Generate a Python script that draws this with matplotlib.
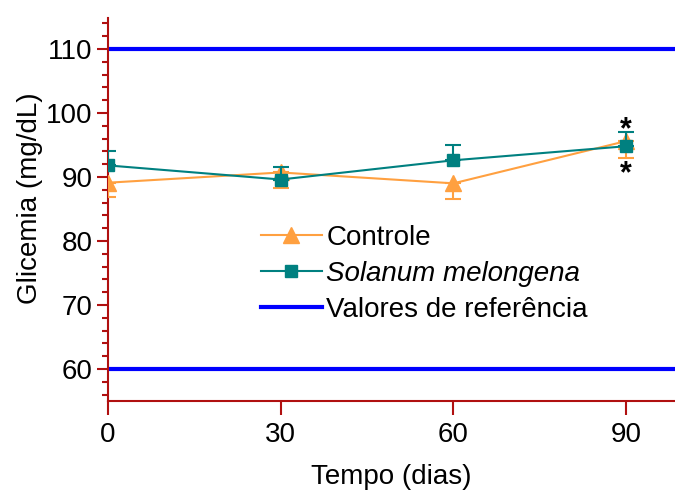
import matplotlib
matplotlib.use('Agg')
import matplotlib.pyplot as plt
from matplotlib.ticker import MultipleLocator
from matplotlib.lines import Line2D

plt.rcParams['font.family'] = ['Liberation Sans', 'DejaVu Sans']

# dados
dias = [0, 30, 60, 90]
controle = [89.1, 90.7, 89.0, 95.6]
controle_err = [2.2, 2.4, 2.4, 2.6]
solanum = [91.8, 89.6, 92.6, 94.8]
solanum_err = [2.3, 1.9, 2.4, 2.3]
referencia = [60, 110]

cor_eixo = '#b01010'
laranja = '#ffa040'
verde = '#008080'
azul = '#0000ff'

fig = plt.figure(figsize=(6.75, 4.92), dpi=100)
ax = fig.add_axes([0.16, 0.185, 0.84, 0.778])

# linhas de referencia
for r in referencia:
    ax.axhline(r, color=azul, lw=3, zorder=1)

# controle: barras de erro para baixo
zeros = [0] * len(dias)
ax.errorbar(dias, controle, yerr=[controle_err, zeros], color=laranja,
            lw=1.5, elinewidth=1.5, capsize=6, capthick=1.5,
            marker='^', ms=12, mec=laranja, zorder=3)
# solanum: barras de erro para cima
ax.errorbar(dias, solanum, yerr=[zeros, solanum_err], color=verde,
            lw=1.5, elinewidth=1.5, capsize=6, capthick=1.5,
            marker='s', ms=9, mec=verde, zorder=4)

# asteriscos de significancia
ax.text(90, solanum[3] + solanum_err[3] - 2.2, '*', ha='center', va='bottom',
        fontsize=22, fontweight='bold')
ax.text(90, controle[3] - controle_err[3] - 5.0, '*', ha='center', va='bottom',
        fontsize=22, fontweight='bold')

ax.set_xlim(0, 98.5)
ax.set_ylim(55, 114.8)
ax.set_xticks(dias)
ax.yaxis.set_major_locator(MultipleLocator(10))
ax.yaxis.set_minor_locator(MultipleLocator(2))
ax.set_yticks(range(60, 111, 10))

for s in ['top', 'right']:
    ax.spines[s].set_visible(False)
for s in ['left', 'bottom']:
    ax.spines[s].set_color(cor_eixo)
    ax.spines[s].set_linewidth(1.5)

ax.tick_params(axis='both', which='both', colors=cor_eixo, width=1.5,
               labelcolor='black', labelsize=20)
ax.tick_params(axis='x', which='major', length=10, pad=5)
ax.tick_params(axis='y', which='major', length=8, pad=3)
ax.tick_params(axis='y', which='minor', length=4)

ax.set_xlabel('Tempo (dias)', fontsize=20, labelpad=12)
ax.set_ylabel('Glicemia (mg/dL)', fontsize=20)
ax.yaxis.set_label_coords(-0.115, 0.53)

handles = [
    Line2D([], [], color=laranja, lw=1.5, marker='^', ms=12),
    Line2D([], [], color=verde, lw=1.5, marker='s', ms=9),
    Line2D([], [], color=azul, lw=3),
]
labels = ['Controle', 'Solanum melongena', 'Valores de referência']
leg = ax.legend(handles, labels, frameon=False, fontsize=20, loc='upper left',
                bbox_to_anchor=(0.25, 0.49), handlelength=2.2,
                handletextpad=0.15, labelspacing=0.36, borderaxespad=0)
leg.get_texts()[1].set_style('italic')

fig.savefig('out.png', dpi=100)
